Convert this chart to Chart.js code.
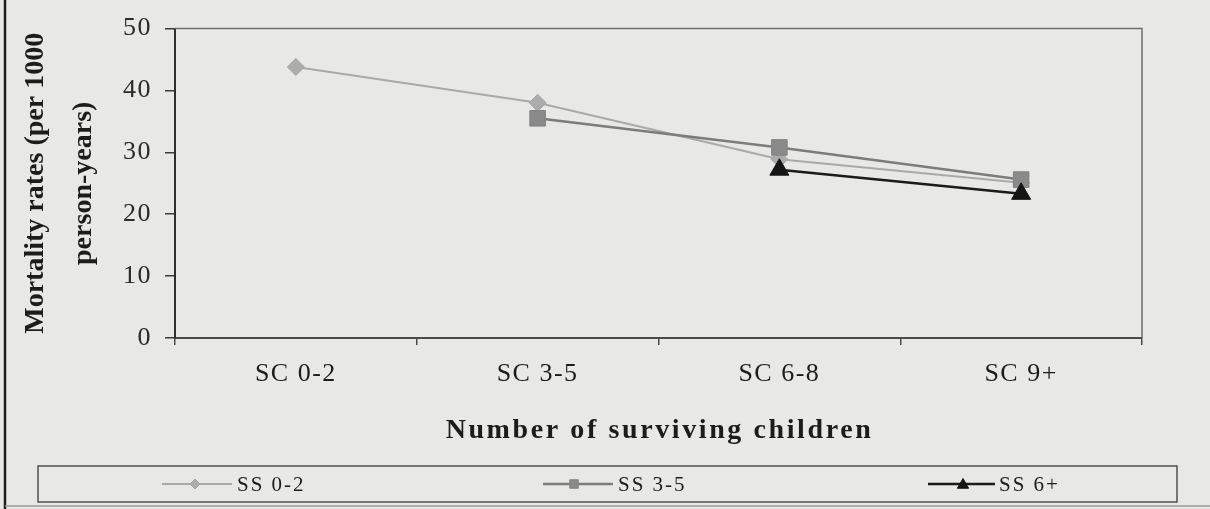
<!DOCTYPE html>
<html>
<head>
<meta charset="utf-8">
<title>Mortality rates by number of surviving children</title>
<script src="https://cdn.jsdelivr.net/npm/chart.js@4/dist/chart.umd.min.js"></script>
<style>
  html, body { margin: 0; padding: 0; background: #e8e8e6; }
  canvas { display: block; }
</style>
</head>
<body>
<canvas id="c" width="1210" height="509"></canvas>
<script>
// Categories: number of surviving children
const categories = ['SC 0-2', 'SC 3-5', 'SC 6-8', 'SC 9+'];

// Mortality rates (per 1000 person-years) by number of surviving sons
const ss02 = [43.8, 38.0, 28.9, 25.1];
const ss35 = [null, 35.5, 30.8, 25.6];
const ss6p = [null, null, 27.2, 23.3];

const seriesNames = ['SS 0-2', 'SS 3-5', 'SS 6+'];
const yTicks = [0, 10, 20, 30, 40, 50];

const SERIF = '"Liberation Serif", "Times New Roman", serif';
const BG = '#e8e8e6';

// Page background, outer frame and the box around the plot area
const framePlugin = {
  id: 'frame',
  beforeDraw(chart) {
    const ctx = chart.ctx;
    ctx.save();
    ctx.fillStyle = BG;
    ctx.fillRect(0, 0, chart.width, chart.height);
    // left frame rule
    ctx.strokeStyle = '#1e1e1e';
    ctx.lineWidth = 2.5;
    ctx.beginPath();
    ctx.moveTo(5, 0);
    ctx.lineTo(5, chart.height);
    ctx.stroke();
    // bottom rule
    ctx.strokeStyle = '#9a9a9a';
    ctx.lineWidth = 1.5;
    ctx.beginPath();
    ctx.moveTo(5, 506);
    ctx.lineTo(chart.width, 506);
    ctx.stroke();
    ctx.restore();
    // slightly spaced lettering for the axis tick labels
    ctx.letterSpacing = '1.5px';
  },
  beforeDatasetsDraw(chart) {
    const { ctx, chartArea: a } = chart;
    ctx.save();
    ctx.strokeStyle = '#6e6e6e';
    ctx.lineWidth = 1.5;
    ctx.beginPath();
    ctx.moveTo(a.left, a.top);
    ctx.lineTo(a.right, a.top);
    ctx.lineTo(a.right, a.bottom);
    ctx.stroke();
    ctx.restore();
  }
};

// Axis titles and the boxed legend below the chart
const annotatePlugin = {
  id: 'annotate',
  afterDraw(chart) {
    const { ctx, chartArea: a } = chart;
    ctx.save();
    ctx.letterSpacing = '0px';
    ctx.fillStyle = '#1c1c1c';

    // y-axis title, two rotated lines
    ctx.font = 'bold 28px ' + SERIF;
    ctx.textAlign = 'center';
    ctx.textBaseline = 'alphabetic';
    const yMid = (a.top + a.bottom) / 2;
    [['Mortality rates (per 1000', 43], ['person-years)', 91]].forEach(([t, x]) => {
      ctx.save();
      ctx.translate(x, yMid);
      ctx.rotate(-Math.PI / 2);
      ctx.fillText(t, 0, 0);
      ctx.restore();
    });

    // x-axis title
    ctx.letterSpacing = '2.6px';
    ctx.font = 'bold 28px ' + SERIF;
    ctx.fillText('Number of surviving children', (a.left + a.right) / 2 + 1, 438);

    // legend box
    ctx.letterSpacing = '0px';
    ctx.strokeStyle = '#505050';
    ctx.lineWidth = 1.5;
    ctx.strokeRect(38, 466, 1139, 36);

    const items = [
      { x0: 162, x1: 232, mx: 195, tx: 237 },
      { x0: 543, x1: 613, mx: 574, tx: 618 },
      { x0: 928, x1: 995, mx: 963, tx: 999 }
    ];
    const ly = 484;
    ctx.letterSpacing = '2px';
    ctx.font = '21px ' + SERIF;
    ctx.textAlign = 'left';
    ctx.textBaseline = 'middle';
    items.forEach((it, i) => {
      const ds = chart.data.datasets[i];
      ctx.strokeStyle = ds.borderColor;
      ctx.lineWidth = ds.borderWidth;
      ctx.beginPath();
      ctx.moveTo(it.x0, ly);
      ctx.lineTo(it.x1, ly);
      ctx.stroke();
      ctx.fillStyle = ds.pointBackgroundColor;
      ctx.strokeStyle = ds.pointBorderColor;
      ctx.lineWidth = 1;
      Chart.helpers.drawPoint(ctx, {
        pointStyle: ds.pointStyle,
        radius: ds.legendRadius,
        rotation: 0,
        borderWidth: 1
      }, it.mx, ly + (ds.pointStyle === 'triangle' ? 1 : 0));
      ctx.fillStyle = '#1c1c1c';
      ctx.fillText(seriesNames[i], it.tx, ly + 1);
    });
    ctx.restore();
  }
};

const chart = new Chart(document.getElementById('c'), {
  type: 'line',
  data: {
    labels: categories,
    datasets: [
      {
        label: seriesNames[0],
        data: ss02,
        borderColor: '#a9a9a9',
        borderWidth: 2,
        pointStyle: 'rectRot',
        pointRadius: 8.5,
        pointBackgroundColor: '#acacac',
        pointBorderColor: '#a4a4a4',
        pointBorderWidth: 1,
        legendRadius: 5,
        order: 3
      },
      {
        label: seriesNames[1],
        data: ss35,
        borderColor: '#7c7c7c',
        borderWidth: 2.5,
        pointStyle: 'rect',
        pointRadius: 11,
        pointBackgroundColor: '#8a8a8a',
        pointBorderColor: '#828282',
        pointBorderWidth: 1,
        legendRadius: 6,
        order: 2
      },
      {
        label: seriesNames[2],
        data: ss6p,
        borderColor: '#1a1a1a',
        borderWidth: 2.5,
        pointStyle: 'triangle',
        pointRadius: 11,
        pointBackgroundColor: '#151515',
        pointBorderColor: '#151515',
        pointBorderWidth: 1,
        legendRadius: 6.5,
        order: 1
      }
    ]
  },
  options: {
    responsive: false,
    animation: false,
    devicePixelRatio: 1,
    spanGaps: false,
    layout: { padding: { top: 25, right: 68, left: 0, bottom: 0 } },
    plugins: {
      legend: { display: false },
      tooltip: { enabled: false }
    },
    scales: {
      x: {
        type: 'category',
        offset: true,
        afterFit(scale) { scale.height = 171; },
        border: { display: true, color: '#4a4a4a', width: 2 },
        grid: {
          display: true,
          offset: true,
          drawOnChartArea: false,
          drawTicks: true,
          tickLength: 7,
          color: '#4a4a4a',
          lineWidth: 1.5
        },
        ticks: {
          color: '#1c1c1c',
          padding: 14,
          maxRotation: 0,
          font: { family: SERIF, size: 26 }
        }
      },
      y: {
        min: 0,
        max: 50,
        afterFit(scale) { scale.width = 175; },
        afterBuildTicks(scale) { scale.ticks = yTicks.map(v => ({ value: v })); },
        border: { display: true, color: '#2e2e2e', width: 2 },
        grid: {
          display: true,
          drawOnChartArea: false,
          drawTicks: true,
          tickLength: 10,
          color: '#3a3a3a',
          lineWidth: 1.5
        },
        ticks: {
          color: '#2a2a2a',
          padding: 13,
          font: { family: SERIF, size: 26 }
        }
      }
    }
  },
  plugins: [framePlugin, annotatePlugin]
});
</script>
</body>
</html>
